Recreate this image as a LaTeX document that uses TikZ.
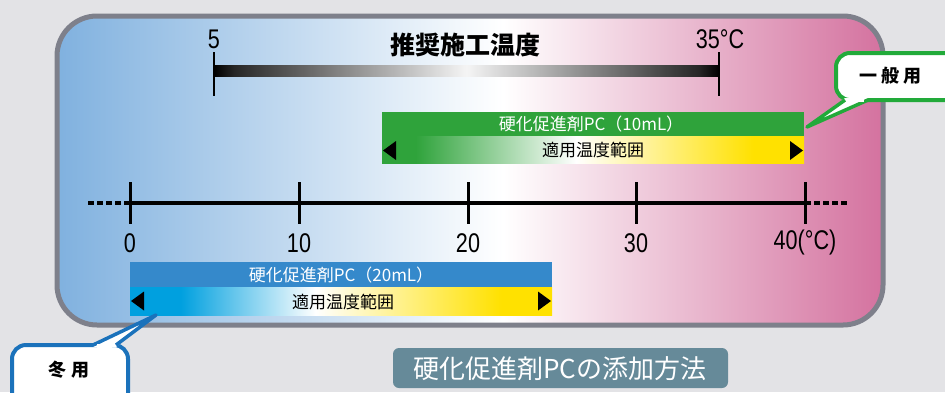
\documentclass[tikz,border=0pt]{standalone}
\usepackage{fontspec}
\usepackage{graphicx}
\setmainfont{Liberation Sans}
\newfontfamily\jp{Noto Sans CJK JP}
\definecolor{bggray}{HTML}{E3E3E6}
\definecolor{framegray}{HTML}{7E808B}
\definecolor{bgblue}{HTML}{80B1DF}
\definecolor{bgpink}{HTML}{D4729F}
\definecolor{pcgreen}{HTML}{2FA33B}
\definecolor{pcblue}{HTML}{3589CB}
\definecolor{stripblue}{HTML}{00A0DF}
\definecolor{pcyellow}{HTML}{FFE100}
\definecolor{callblue}{HTML}{1B72BB}
\definecolor{callgreen}{HTML}{22AA3A}
\definecolor{labelblue}{HTML}{668A99}
\pgfdeclarehorizontalshading{mainbg}{100bp}{color(0bp)=(bgblue); color(25bp)=(bgblue); color(52bp)=(white); color(75bp)=(bgpink); color(100bp)=(bgpink)}
\pgfdeclarehorizontalshading{topbar}{100bp}{color(0bp)=(black); color(25bp)=(black); color(27bp)=(black!85); color(50bp)=(black!4); color(73bp)=(black!85); color(75bp)=(black); color(100bp)=(black)}
\pgfdeclarehorizontalshading{greenstrip}{100bp}{color(0bp)=(pcgreen); color(29bp)=(pcgreen); color(48bp)=(white); color(69bp)=(pcyellow); color(100bp)=(pcyellow)}
\pgfdeclarehorizontalshading{bluestrip}{100bp}{color(0bp)=(stripblue); color(31bp)=(stripblue); color(47bp)=(white); color(69bp)=(pcyellow); color(100bp)=(pcyellow)}
\newcommand\cond[1]{\scalebox{0.8}[1]{#1}}
\begin{document}
\begin{tikzpicture}[x=1pt,y=-1pt,
  num/.style={inner sep=0pt, font=\fontsize{27}{27}\selectfont},
  bartxt/.style={inner sep=0pt, font=\jp\fontsize{17}{17}\selectfont},
  calltxt/.style={inner sep=0pt, font=\jp\bfseries\fontsize{18}{18}\selectfont},
  tri/.style={fill=black},
  tick/.style={line width=3pt},
  axisline/.style={line width=3.5pt}]
\useasboundingbox (0,0) rectangle (945,392);
\clip (0,0) rectangle (945,392);
\fill[bggray] (0,0) rectangle (945,392);
% main panel
\shade[shading=mainbg, rounded corners=40pt] (57,16) rectangle (883,325);
\draw[framegray, line width=5pt, rounded corners=40pt] (57,16) rectangle (883,325);
% recommended temperature
\shade[shading=topbar] (214,65) rectangle (719,76);
\draw[line width=2.5pt] (214,52) -- (214,96);
\draw[line width=2.5pt] (719,52) -- (719,96);
\node[num] (n5) at (214,39) {\cond{5}};
\node[num] (n35) at (720,39) {\cond{35°C}};
\node[inner sep=0pt, font=\jp\bfseries\fontsize{25}{25}\selectfont] (title) at (465,45) {推奨施工温度};
% green bar
\fill[pcgreen] (382,112) rectangle (804,136);
\shade[shading=greenstrip] (382,136) rectangle (804,163);
\fill[tri] (383,150.5) -- (396,141) -- (396,160) -- cycle;
\fill[tri] (803,150.5) -- (790,141) -- (790,160) -- cycle;
\node[bartxt, text=white] (g1) at (591,124) {硬化促進剤PC（10mL）};
\node[bartxt] (g2) at (593,150) {適用温度範囲};
% axis
\coordinate (al) at (88,203);
\coordinate (a0) at (130,203);
\coordinate (a40) at (805,203);
\coordinate (ar) at (848,203);
\draw[axisline] (a0) -- (a40);
\draw[axisline, dash pattern=on 6pt off 3pt] (al) -- (a0);
\draw[axisline, dash pattern=on 6pt off 3pt] (a40) -- (ar);
\foreach \x/\t [count=\i] in {130/0,299/10,468/20,636/30,805/40(°C)}{
  \draw[tick] (\x,182) -- (\x,224);
  \node[num] (lab\i) at (\x,243) {\cond{\t}};
}
% blue bar
\fill[pcblue] (130,262) rectangle (552,287);
\shade[shading=bluestrip] (130,287) rectangle (552,315);
\fill[tri] (131,301) -- (144,291.5) -- (144,310.5) -- cycle;
\fill[tri] (551,301) -- (538,291.5) -- (538,310.5) -- cycle;
\node[bartxt, text=white] (b1) at (341,275) {硬化促進剤PC（20mL）};
\node[bartxt] (b2) at (343,302) {適用温度範囲};
% winter callout
\draw[callblue, line width=4pt, fill=white, rounded corners=14pt] (12,345) rectangle (128,412);
\fill[white] (93,347) -- (156,315) -- (116,347) -- cycle;
\draw[callblue, line width=3.5pt, line join=round] (93,345) -- (156,315) -- (116,345);
\fill[white] (97,343.5) rectangle (112,349);
\node[calltxt] (winter) at (69,370) {冬\hspace{5pt}用};
% general callout
\draw[callgreen, line width=4pt, fill=white, rounded corners=14pt] (836,53) rectangle (965,100);
\fill[white] (845,98) -- (807,127) -- (868,98) -- cycle;
\draw[callgreen, line width=3.5pt, line join=round] (845,100) -- (807,127) -- (868,100);
\fill[white] (849,96) rectangle (864,101.5);
\node[calltxt] (general) at (890,76) {一\hspace{4pt}般\hspace{4pt}用};
% bottom label
\fill[labelblue, rounded corners=6pt] (393,348) rectangle (728,388);
\node[inner sep=0pt, text=white, font=\jp\fontsize{26}{26}\selectfont] (method) at (560,369) {硬化促進剤PCの添加方法};
\end{tikzpicture}
\end{document}
